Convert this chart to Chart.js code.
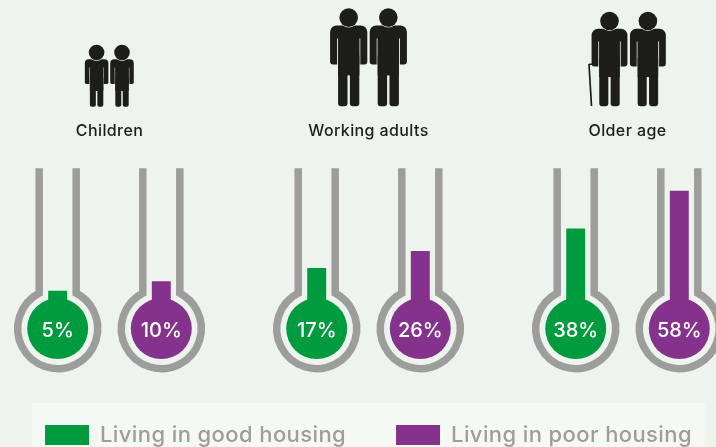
<!DOCTYPE html>
<html>
<head>
<meta charset="utf-8">
<script src="https://cdn.jsdelivr.net/npm/chart.js@4"></script>
<style>
html,body{margin:0;padding:0;width:716px;height:447px;overflow:hidden;background:#edf4ed}
#wrap{position:absolute;left:-20px;top:0;width:777px;height:456px}
canvas{display:block}
</style>
</head>
<body>
<div id="wrap"><canvas id="c" width="777" height="456"></canvas></div>
<script>
const categories = ['Children', 'Working adults', 'Older age'];
const goodHousing = [5, 17, 38];
const poorHousing = [10, 26, 58];
const seriesNames = ['Living in good housing', 'Living in poor housing'];
const seriesColors = ['#009b3e', '#84328b'];

const GREY = '#9d9d9c', DARK = '#1d1d1b', BG = '#edf4ed';

function rr(ctx, x, y, w, h, r) { ctx.beginPath(); ctx.roundRect(x, y, w, h, r); ctx.fill(); }

function person(ctx, cx, top, H, headR) {
  const s = H / 98, bottom = top + H;
  ctx.fillStyle = DARK;
  const neckY = top + headR * 2 - 1.5 * s;
  rr(ctx, cx - 18.6 * s, neckY, 37.2 * s, 39 * s, [6.5 * s, 6.5 * s, 3 * s, 3 * s]);
  ctx.fillStyle = BG;
  ctx.fillRect(cx - 11.6 * s, neckY + 13 * s, 1 * s, 30 * s);
  ctx.fillRect(cx + 10.6 * s, neckY + 13 * s, 1 * s, 30 * s);
  ctx.fillStyle = DARK;
  ctx.fillRect(cx - 10.6 * s, neckY + 6 * s, 21.2 * s, 44 * s);
  rr(ctx, cx - 10.6 * s, neckY + 30 * s, 9.4 * s, bottom - neckY - 30 * s, [0, 0, 3 * s, 3 * s]);
  rr(ctx, cx + 1.2 * s, neckY + 30 * s, 9.4 * s, bottom - neckY - 30 * s, [0, 0, 3 * s, 3 * s]);
  ctx.beginPath();
  ctx.arc(cx, top + headR, headR + 0.6, 0, Math.PI * 2);
  ctx.fillStyle = BG; ctx.fill();
  ctx.beginPath();
  ctx.arc(cx, top + headR, headR, 0, Math.PI * 2);
  ctx.fillStyle = DARK; ctx.fill();
}

const decorations = {
  id: 'decorations',
  beforeLayout(chart) { chart.ctx.letterSpacing = '0.4px'; },
  beforeDraw(chart) {
    const ctx = chart.ctx;
    ctx.letterSpacing = '0.4px';
    ctx.save();
    ctx.fillStyle = '#f5f9f6';
    ctx.fillRect(52, 403, 673, 60);
    const x = chart.scales.x;
    const icons = [
      { d: 12.7, top: 44.7, H: 62, r: 7.8 },
      { d: 19.8, top: 8.3, H: 98, r: 9.3 },
      { d: 19.2, top: 11.7, H: 94.5, r: 9.3 }
    ];
    icons.forEach((ic, i) => {
      const c = x.getPixelForTick(i) + (i === 2 ? 1.2 : i === 0 ? -0.2 : 0);
      person(ctx, c - ic.d, ic.top, ic.H, ic.r);
      person(ctx, c + ic.d, ic.top, ic.H, ic.r);
      if (i === 2) {
        ctx.strokeStyle = DARK; ctx.lineWidth = 1.7; ctx.lineJoin = 'round';
        ctx.beginPath();
        const lx = c - ic.d - 20.5;
        ctx.moveTo(lx + 4, 64); ctx.lineTo(lx, 64.5); ctx.lineTo(lx + 2.5, 106);
        ctx.stroke();
      }
    });
    ctx.restore();
  },
  beforeDatasetsDraw(chart) {
    const ctx = chart.ctx, y = chart.scales.y;
    const top = y.getPixelForValue(y.max), cy = y.getPixelForValue(0) + 28.5;
    ctx.save();
    ctx.strokeStyle = GREY; ctx.lineWidth = 7.5; ctx.lineCap = 'butt'; ctx.lineJoin = 'miter';
    chart.data.datasets.forEach((ds, di) => {
      chart.getDatasetMeta(di).data.forEach(bar => {
        const r = 40, dx = 18.5;
        const a = Math.asin(dx / r);
        ctx.beginPath();
        ctx.moveTo(bar.x - dx, top);
        ctx.lineTo(bar.x - dx, cy - Math.cos(a) * r);
        ctx.arc(bar.x, cy, r, -Math.PI / 2 - a, -Math.PI / 2 + a, true);
        ctx.lineTo(bar.x + dx, top);
        ctx.stroke();
      });
    });
    ctx.restore();
  },
  afterDatasetsDraw(chart) {
    const ctx = chart.ctx, y = chart.scales.y;
    const cy = y.getPixelForValue(0) + 28.5;
    ctx.save();
    ctx.letterSpacing = '0px';
    ctx.textAlign = 'center'; ctx.textBaseline = 'middle';
    ctx.font = '500 20px Inter';
    chart.data.datasets.forEach((ds, di) => {
      chart.getDatasetMeta(di).data.forEach((bar, i) => {
        ctx.beginPath();
        ctx.arc(bar.x, cy, 30.5, 0, Math.PI * 2);
        ctx.fillStyle = ds.backgroundColor; ctx.fill();
        ctx.fillStyle = '#ffffff';
        ctx.fillText(ds.data[i] + '%', bar.x, cy + 2);
      });
    });
    ctx.restore();
  }
};

new Chart(document.getElementById('c'), {
  type: 'bar',
  data: {
    labels: categories,
    datasets: [
      { label: seriesNames[0], data: goodHousing, backgroundColor: seriesColors[0], borderWidth: 0 },
      { label: seriesNames[1], data: poorHousing, backgroundColor: seriesColors[1], borderWidth: 0 }
    ]
  },
  options: {
    responsive: false,
    devicePixelRatio: 1,
    animation: false,
    categoryPercentage: 0.8,
    barPercentage: 0.183,
    layout: { padding: { top: 95, left: 0, right: 0, bottom: 0 } },
    scales: {
      x: {
        position: 'top',
        grid: { display: false, drawTicks: false },
        border: { display: false },
        ticks: { color: DARK, padding: 27, maxRotation: 0, font: { family: 'Inter', size: 16, weight: '500' } }
      },
      y: { display: false, min: -39.2, max: 70 }
    },
    plugins: {
      tooltip: { enabled: false },
      legend: {
        position: 'bottom',
        labels: {
          boxWidth: 44, boxHeight: 20, padding: 50, color: GREY,
          font: { family: 'Inter', size: 22, weight: '500' }
        }
      }
    }
  },
  plugins: [decorations]
});
</script>
</body>
</html>
